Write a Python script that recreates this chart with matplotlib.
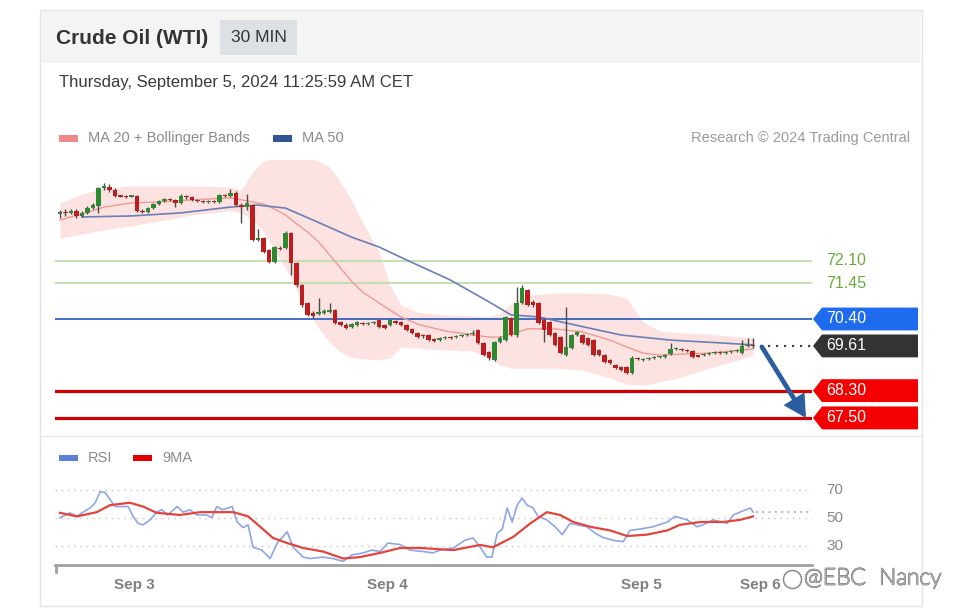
import matplotlib
matplotlib.use('Agg')
import matplotlib.pyplot as plt
import matplotlib.transforms as mtransforms
import matplotlib.patheffects as pe
from matplotlib.patches import Rectangle, Polygon, FancyArrowPatch
from matplotlib.lines import Line2D

plt.rcParams['font.family'] = ['Liberation Sans', 'DejaVu Sans']

# ---------------- data ----------------
title = "Crude Oil (WTI)"
timeframe = "30 MIN"
timestamp = "Thursday, September 5, 2024 11:25:59 AM CET"

opens = [73.48,73.54,73.51,73.57,73.42,73.51,73.65,73.71,74.24,74.27,
         74.18,74.01,74.00,73.99,74.01,73.57,73.54,73.65,73.77,73.86,
         73.92,73.89,73.80,74.01,73.98,73.89,73.86,73.83,73.86,73.83,
         74.04,74.01,74.09,73.74,73.68,73.74,72.72,72.77,72.42,72.07,
         72.48,72.48,72.92,72.04,71.40,70.87,70.58,70.55,70.58,70.60,
         70.66,70.31,70.22,70.16,70.22,70.28,70.25,70.28,70.37,70.22,
         70.22,70.34,70.31,70.22,70.11,69.99,69.93,69.93,69.81,69.78,
         69.84,69.87,69.87,69.90,69.93,69.96,70.08,69.70,69.43,69.20,
         69.72,69.78,70.43,69.93,70.87,71.25,70.90,70.87,70.37,70.31,
         69.99,69.87,69.34,69.55,69.93,69.93,69.84,69.78,69.49,69.34,
         69.20,69.05,68.99,68.99,68.82,69.26,69.20,69.23,69.26,69.28,
         69.28,69.37,69.52,69.52,69.49,69.46,69.31,69.34,69.37,69.40,
         69.43,69.40,69.43,69.46,69.40,69.61,69.64]
closes = [73.54,73.51,73.57,73.42,73.51,73.65,73.74,74.24,74.30,74.18,
          74.01,73.99,73.98,74.00,73.57,73.54,73.65,73.77,73.86,73.92,
          73.89,73.80,74.01,73.98,73.89,73.86,73.83,73.86,73.83,74.04,
          74.01,74.09,73.74,73.68,73.80,72.72,72.77,72.36,72.07,72.51,
          72.45,72.92,72.04,71.40,70.81,70.52,70.49,70.60,70.63,70.66,
          70.28,70.22,70.14,70.25,70.31,70.25,70.28,70.31,70.16,70.14,
          70.37,70.28,70.22,70.08,69.99,69.87,69.90,69.78,69.75,69.84,
          69.87,69.85,69.90,69.93,69.96,69.99,69.70,69.34,69.26,69.72,
          69.84,70.46,69.93,70.87,71.31,70.81,70.81,70.28,70.08,69.93,
          69.64,69.40,69.58,69.93,70.02,69.70,69.64,69.34,69.34,69.14,
          69.11,68.96,68.90,68.82,69.26,69.23,69.23,69.26,69.28,69.29,
          69.34,69.52,69.55,69.49,69.46,69.28,69.30,69.37,69.40,69.43,
          69.40,69.43,69.46,69.49,69.61,69.64,69.61]
highs = [73.60,73.62,73.62,73.62,73.57,73.71,73.80,74.27,74.39,74.36,
         74.24,74.04,74.04,74.04,74.04,73.62,73.68,73.80,73.89,73.95,
         73.95,73.92,74.06,74.04,74.01,73.92,73.89,73.89,73.89,74.06,
         74.06,74.21,74.15,73.80,74.06,73.77,73.04,72.80,72.45,72.54,
         72.54,72.98,72.95,72.07,71.43,70.90,70.63,71.01,70.69,70.87,
         70.69,70.34,70.28,70.28,70.34,70.31,70.31,70.34,70.40,70.25,
         70.40,70.37,70.34,70.25,70.14,70.02,69.96,69.96,69.84,69.87,
         69.90,69.90,69.93,69.96,69.99,70.08,70.11,69.72,69.46,69.75,
         69.90,70.49,70.46,71.34,71.40,71.28,70.96,70.90,70.43,70.34,
         70.02,69.90,70.75,69.96,70.05,69.96,69.87,69.81,69.52,69.37,
         69.23,69.08,69.02,69.02,69.31,69.28,69.26,69.28,69.31,69.31,
         69.37,69.70,69.58,69.55,69.52,69.49,69.34,69.40,69.43,69.46,
         69.46,69.46,69.49,69.52,69.78,69.84,69.84]
lows = [73.36,73.42,73.48,73.36,73.39,73.48,73.62,73.51,74.18,74.12,
        73.98,73.98,73.95,73.97,73.54,73.51,73.51,73.62,73.74,73.83,
        73.86,73.68,73.77,73.92,73.86,73.83,73.80,73.80,73.80,73.80,
        73.98,73.98,73.71,73.21,73.60,72.69,72.69,72.33,72.04,72.04,
        72.42,72.45,71.69,71.34,70.75,70.49,70.43,70.52,70.55,70.58,
        70.25,70.19,70.11,70.14,70.19,70.22,70.22,70.25,70.14,70.11,
        70.19,70.25,70.19,70.05,69.96,69.84,69.84,69.75,69.72,69.75,
        69.81,69.81,69.84,69.87,69.90,69.93,69.67,69.31,69.20,69.17,
        69.70,69.75,69.90,69.87,70.84,70.78,70.75,70.25,69.72,69.90,
        69.61,69.37,69.31,69.52,69.90,69.67,69.61,69.31,69.31,69.11,
        69.08,68.93,68.87,68.79,68.79,69.20,69.17,69.20,69.23,69.26,
        69.26,69.34,69.49,69.46,69.43,69.26,69.28,69.31,69.34,69.37,
        69.37,69.37,69.40,69.43,69.37,69.58,69.55]

band_idx = [0,4,8,13,18,24,31,33,35,37,39,41,43,45,47,49,51,53,55,58,60,62,65,
            70,75,78,80,82,85,90,95,100,103,106,109,113,118,122,126]
bb_upper = [73.80,74.06,74.24,74.30,74.30,74.30,74.27,74.18,74.71,75.03,75.12,
            75.15,75.15,75.12,75.03,74.86,74.42,73.89,73.24,72.36,71.40,70.81,
            70.60,70.52,70.49,70.46,70.55,70.84,71.10,71.16,71.16,71.13,71.01,
            70.31,70.05,69.99,69.96,69.90,69.84]
bb_lower = [72.77,72.89,73.01,73.13,73.27,73.45,73.57,73.51,73.30,72.95,72.42,
            71.89,71.25,70.66,70.14,69.72,69.43,69.28,69.23,69.20,69.26,69.58,
            69.55,69.49,69.46,69.26,69.05,68.96,68.96,68.96,68.90,68.67,68.49,
            68.46,68.55,68.70,68.96,69.14,69.34]
ma20 = [73.30,73.48,73.68,73.80,73.83,73.89,73.95,73.89,73.83,73.77,73.62,
        73.45,73.19,72.95,72.66,72.28,71.89,71.51,71.19,70.87,70.66,70.46,
        70.25,70.05,69.93,69.87,69.87,69.96,70.11,70.11,70.02,69.78,69.58,
        69.40,69.34,69.37,69.40,69.46,69.52]
ma50_idx = [4,13,22,31,36,41,46,53,58,63,71,78,82,87,96,102,111,120,126]
ma50 = [73.39,73.42,73.51,73.68,73.74,73.65,73.30,72.80,72.51,72.13,71.54,
        70.90,70.52,70.46,70.14,69.93,69.78,69.70,69.64]

rsi_idx = [0,1.8,3.1,4.2,5.5,6.4,7.3,8.2,9.1,10,12.4,13.3,14.2,15.1,16.4,17.6,
           18.5,19.6,21.3,22.4,23.6,24.9,26.7,27.6,28.5,29.6,31.3,32.2,33.3,34.2,
           35.1,36.7,38.2,39.5,41.3,42.4,44.2,45.5,47.8,49.6,51.5,53.1,55.1,56.7,
           58.2,59.6,61.8,63.6,66,67.8,69.1,71.5,73.6,75.1,76.4,77.6,78.5,79.5,
           80.4,81.3,82.2,83.1,84,84.9,86,86.9,88.5,90,91.3,92.7,94,95.8,97.3,
           98.7,100.5,102.4,103.6,105.5,107.8,110.4,111.8,114,115.8,116.9,118.7,
           121.3,122.4,123.6,125.5,126]
rsi = [50,53.5,51,54,57,60.7,68.5,68,63,58,58,51,46,45,48.5,54,55.7,52,58,54,
       55.7,52,52,50,58,55.7,58,47,43,45,29,27,21,32,40,29,22,21,22,21,
       19,23.6,25,27,26,32,31,27,26,25,27,28.5,34,35.7,29,22,22,39,42,57,
       47,59,64,59,57,51,48.5,43.6,38,46,45,43.6,39,36,34,33,41,42,43.6,47,
       51,48.5,43.6,45,48.5,46,52,54,57,54]
ma9_idx = [0,3.1,6.7,9.1,12.7,15.1,17.6,21.8,25.5,31.5,34.2,36.4,38.7,41.3,44.2,
           47.8,51.5,54.5,58.2,61.8,65.5,71.5,76.4,78.7,82.4,85.5,88.5,90.9,93.3,
           96.4,100,103.1,106.7,110.4,112.7,116.4,120.5,123.6,126]
rsi_ma9 = [53.5,51,54,59,60.7,58,53.5,52,54,54,51,43.6,35.7,32,28.5,26,21,22,25,
           28.5,28.5,27,30.7,29,36.4,46,54,52,47,43.6,41,37,38,41,45,47,47,48.5,51]

resistances = [72.10, 71.45]
pivot = 70.40
last_price = 69.61
supports = [68.30, 67.50]
rsi_levels = [70, 50, 30]

date_ticks = [13.6, 59.6, 105.6, 127.3]
date_labels = ["Sep 3", "Sep 4", "Sep 5", "Sep 6"]

# ---------------- layout helpers ----------------
W, H = 957, 616
fig = plt.figure(figsize=(W / 100, H / 100), dpi=100)
fig.patch.set_facecolor('white')

def fx(x):
    return x / W

def fy(y):
    return 1 - y / H

# card + header
fig.add_artist(Rectangle((fx(40), fy(606)), fx(922) - fx(40), fy(10) - fy(606),
                         transform=fig.transFigure, facecolor='white',
                         edgecolor='#e4e4e4', lw=1, zorder=-10))
fig.add_artist(Rectangle((fx(41), fy(63)), fx(921) - fx(41), fy(11) - fy(63),
                         transform=fig.transFigure, facecolor='#f4f4f4',
                         edgecolor='none', zorder=-9))
fig.add_artist(Rectangle((fx(220), fy(55)), fx(297) - fx(220), fy(20) - fy(55),
                         transform=fig.transFigure, facecolor='#dde0e4',
                         edgecolor='none', zorder=-8))
fig.add_artist(Line2D([fx(40), fx(922)], [fy(436), fy(436)], transform=fig.transFigure,
                      color='#e6e6e6', lw=1, zorder=-8))

fig.text(fx(56), fy(38), title, fontsize=15, fontweight='bold', color='#333333',
         va='center', ha='left')
fig.text(fx(258.5), fy(38), timeframe, fontsize=12.5, color='#333333',
         va='center', ha='center')
fig.text(fx(59), fy(82), timestamp, fontsize=12, color='#3a3a3a', va='center', ha='left')

# legends
fig.add_artist(Rectangle((fx(59), fy(142)), fx(19), fy(0) - fy(7), transform=fig.transFigure,
                         facecolor='#f08a8a', edgecolor='none'))
fig.text(fx(88), fy(138), "MA 20 + Bollinger Bands", fontsize=10.5, color='#8a8a8a',
         va='center', ha='left')
fig.add_artist(Rectangle((fx(273), fy(142)), fx(19), fy(0) - fy(7), transform=fig.transFigure,
                         facecolor='#2f5597', edgecolor='none'))
fig.text(fx(302), fy(138), "MA 50", fontsize=10.5, color='#8a8a8a', va='center', ha='left')
fig.text(fx(910), fy(138), "Research \u00a9 2024 Trading Central", fontsize=10.5,
         color='#9a9a9a', va='center', ha='right')

fig.add_artist(Rectangle((fx(59), fy(461)), fx(19), fy(0) - fy(6), transform=fig.transFigure,
                         facecolor='#5b80d8', edgecolor='none'))
fig.text(fx(88), fy(458), "RSI", fontsize=10.5, color='#8a8a8a', va='center', ha='left')
fig.add_artist(Rectangle((fx(133), fy(461)), fx(19), fy(0) - fy(6), transform=fig.transFigure,
                         facecolor='#e00000', edgecolor='none'))
fig.text(fx(162), fy(458), "9MA", fontsize=10.5, color='#8a8a8a', va='center', ha='left')

# ---------------- main price panel ----------------
ax = fig.add_axes([fx(55), fy(436), fx(812) - fx(55), fy(160) - fy(436)])
ax.set_facecolor('none')
ax.set_xlim(-0.9, 136.7)
ax.set_ylim(66.97, 75.06)
ax.axis('off')

ax.fill_between(band_idx, bb_lower, bb_upper, color='#fde2e2', lw=0, zorder=1)
ax.plot(band_idx, ma20, color='#ec9b95', lw=1.0, zorder=2)
ax.plot(ma50_idx, ma50, color='#6a80b4', lw=1.2, zorder=2)

for lvl in resistances:
    ax.axhline(lvl, color='#b9dca6', lw=1.2, zorder=1.5)
ax.axhline(pivot, color='#3463c4', lw=1.3, zorder=1.5)
for lvl in supports:
    ax.axhline(lvl, color='#d40000', lw=2.3, zorder=1.5)

n = len(closes)
for i in range(n):
    o, c, h, l = opens[i], closes[i], highs[i], lows[i]
    col = '#2e8a30' if c >= o else '#bd1d1d'
    ax.vlines(i, l, h, color='#4a4a4a', lw=1.0, zorder=3)
    body = max(abs(c - o), 0.03)
    ax.bar(i, body, bottom=min(o, c), width=0.8, color=col, edgecolor='none', zorder=4)

ax.hlines(last_price, n + 0.3, 136.7, color='#444444', lw=1.6, linestyles=(0, (1, 2.6)), zorder=3)

arrow = FancyArrowPatch((n + 0.6, closes[-1] - 0.03), (n + 8.6, supports[1] + 0.0),
                        arrowstyle='-|>,head_length=11,head_width=6', mutation_scale=1,
                        color='#2c5e9f', lw=3.4, zorder=6, shrinkA=0, shrinkB=0,
                        joinstyle='miter')
ax.add_patch(arrow)

trans = mtransforms.blended_transform_factory(fig.transFigure, ax.transData)
half = 0.335

def tag(price, text, color):
    pts = [(fx(813), price), (fx(822), price + half), (fx(918), price + half),
           (fx(918), price - half), (fx(822), price - half)]
    ax.add_patch(Polygon(pts, closed=True, transform=trans, facecolor=color,
                         edgecolor='none', clip_on=False, zorder=5))
    ax.text(fx(826), price, text, transform=trans, fontsize=11.5, color='white',
            va='center', ha='left', clip_on=False, zorder=6)

for lvl in resistances:
    ax.text(fx(826), lvl, f"{lvl:.2f}", transform=trans, fontsize=11.5, color='#6aaa3c',
            va='center', ha='left', clip_on=False)
tag(pivot, f"{pivot:.2f}", '#1f6bf0')
tag(last_price, f"{last_price:.2f}", '#333333')
for lvl in supports:
    tag(lvl, f"{lvl:.2f}", '#f50000')

# ---------------- RSI panel ----------------
ar = fig.add_axes([fx(55), fy(565), fx(812) - fx(55), fy(470) - fy(565)])
ar.set_facecolor('none')
ar.set_xlim(-0.9, 136.7)
ar.set_ylim(16.4, 84)
for s in ['top', 'right', 'left']:
    ar.spines[s].set_visible(False)
ar.spines['bottom'].set_color('#a0a0a0')
ar.spines['bottom'].set_linewidth(2)
ar.set_yticks([])
ar.set_xticks(date_ticks)
ar.set_xticklabels(date_labels)
ar.tick_params(axis='x', length=0, pad=9, labelsize=11, labelcolor='#808080')
for t in ar.get_xticklabels():
    t.set_fontweight('bold')

for v in rsi_levels:
    ar.axhline(v, color='#c4c4c4', lw=1, ls=(0, (1, 3.5)), zorder=1)
ar.plot(rsi_idx, rsi, color='#8ea6e6', lw=1.2, zorder=3)
ar.plot(ma9_idx, rsi_ma9, color='#e2453c', lw=1.6, zorder=4)
ar.hlines(rsi[-1], rsi_idx[-1] + 0.5, 136.7, color='#aaaaaa', lw=1.3,
          linestyles=(0, (1, 2.5)), zorder=2)

trans_r = mtransforms.blended_transform_factory(fig.transFigure, ar.transData)
for v in rsi_levels:
    ar.text(fx(826), v, str(v), transform=trans_r, fontsize=11, color='#888888',
            va='center', ha='left', clip_on=False)

fig.add_artist(Line2D([fx(55.5), fx(55.5)], [fy(565), fy(572)], transform=fig.transFigure,
                      color='#a0a0a0', lw=2))

# watermark (weibo-style icon + handle)
fig.add_artist(Line2D([fx(792)], [fy(579)], transform=fig.transFigure, marker='o',
                      markersize=13, markerfacecolor='white', markeredgecolor='#8a8a8a',
                      markeredgewidth=1.1, linestyle='none', zorder=8))
fig.text(fx(804), fy(578), "@EBC  Nancy", fontsize=16.5, color='white',
         family=['Lato', 'DejaVu Sans'], weight='light', va='center', ha='left',
         zorder=9, path_effects=[pe.withStroke(linewidth=1.2, foreground='#8a8a8a')])

fig.savefig('out.png', dpi=100)
